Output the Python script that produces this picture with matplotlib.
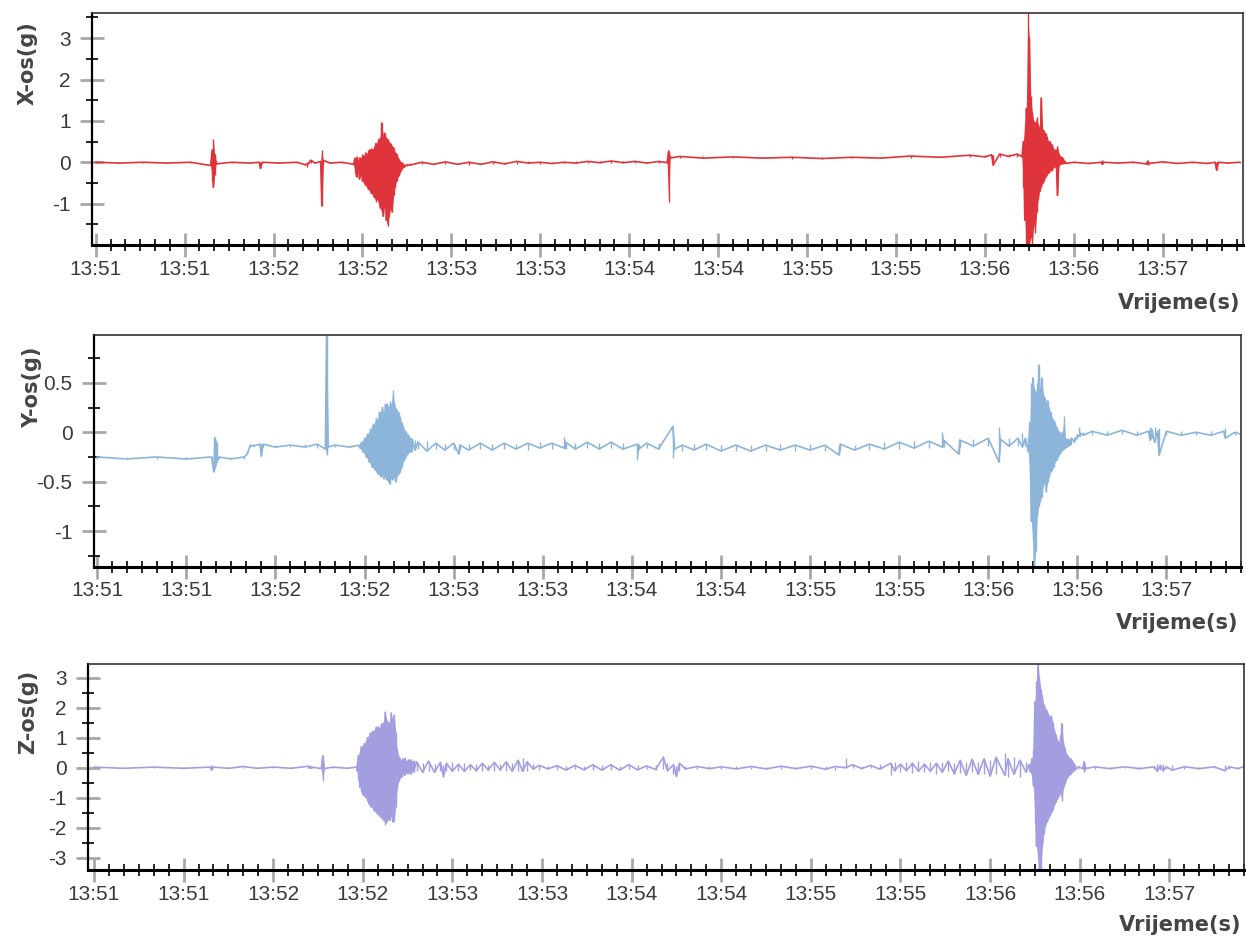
import numpy as np
import matplotlib
matplotlib.use('Agg')
import matplotlib.pyplot as plt
from matplotlib.ticker import FixedLocator, MultipleLocator, FuncFormatter

plt.rcParams['font.family'] = ['Liberation Sans', 'DejaVu Sans']
plt.rcParams['axes.unicode_minus'] = False

# time in seconds after 13:51:00, envelope (upper / lower) of each trace in g
x_t = [0, 8, 16, 24, 32, 38.8, 39.3, 39.7, 40.1, 40.6, 46, 52, 55.2, 55.6, 56.2, 62, 68,
       70.6, 71.2, 71.8, 72.6, 74, 75.9, 76.3, 76.7, 79, 83, 87,
       87.5, 88, 88.5, 89, 89.5, 90, 90.5, 91, 91.5, 92, 92.5, 93, 93.5, 94, 94.5, 95, 95.5,
       96, 96.5, 97, 97.5, 98, 98.5, 99, 99.5, 100, 100.5, 101, 101.5, 102, 102.5, 103,
       103.5, 104, 105,
       106, 110, 114, 118, 122, 126, 130, 134, 138, 142, 146, 150, 154, 158, 162, 166, 170,
       174, 178, 182, 186, 190, 192.8, 193.3, 193.8, 197, 205, 215, 225, 235, 245, 255, 265,
       275, 285, 295, 300, 302.3, 302.8, 305, 308, 311, 312.5,
       313, 313.5, 314, 314.5, 315, 315.5, 316, 316.5, 317, 317.5, 318, 318.5, 319, 319.5,
       320, 320.5, 321, 321.5, 322, 322.5, 323, 323.5, 324, 324.5, 325, 325.5, 326, 326.5, 327,
       327.5, 330, 335, 339.2, 339.6, 340, 345, 350, 354.5, 355, 355.5, 360, 365, 370, 375,
       377.7, 378.2, 378.7, 382, 386]
x_hi = [0, 0, 0, 0, 0, 0.05, 0.3, 0.55, 0.2, 0.03, 0, 0, 0, 0, 0, 0, 0,
        -0.02, -0.05, 0.02, 0.05, 0.01, 0.02, 0.3, 0.05, 0, 0, 0.02,
        0.1, 0.15, 0.05, 0.12, 0.1, 0.2, 0.15, 0.25, 0.2, 0.3, 0.3, 0.35, 0.3, 0.4, 0.45, 0.5, 0.55,
        0.6, 0.95, 0.65, 0.7, 0.6, 0.55, 0.5, 0.45, 0.4, 0.35, 0.25, 0.2, 0.12, 0.05, 0.0,
        -0.02, -0.05, -0.06,
        -0.02, 0.0, -0.01, 0.01, -0.01, 0.0, -0.01, 0.01, 0.0, 0.02, 0.04, 0.0, 0.01, 0.0, 0.02, 0.02, 0.03,
        0.03, 0.02, 0.02, 0.01, 0.02, 0.02, 0.27, 0.16, 0.14, 0.14, 0.13, 0.13, 0.12, 0.13, 0.12, 0.13,
        0.15, 0.16, 0.17, 0.18, 0.18, 0.17, 0.2, 0.2, 0.2, 0.2,
        0.5, 0.9, 1.3, 3.6, 3.0, 1.6, 1.2, 1.0, 0.95, 1.1, 0.9, 0.85, 1.55, 0.8,
        0.75, 0.7, 0.6, 0.5, 0.5, 0.45, 0.35, 0.3, 0.3, 0.4, 0.2, 0.15, 0.12, 0.1, 0.02,
        0.0, 0.0, 0.0, 0.0, 0.06, 0.0, 0.0, 0.0, 0.0, 0.03, 0.0, 0.01, 0.0, 0.0, 0.0,
        0.0, 0.0, 0.0, 0.0, 0.0]
x_lo = [-0.02, -0.02, -0.02, -0.02, -0.02, -0.08, -0.45, -0.6, -0.3, -0.04, -0.02, -0.02, -0.02, -0.15, -0.02, -0.02, -0.02,
        -0.06, -0.12, -0.02, -0.01, -0.02, -0.03, -1.05, -0.05, -0.02, -0.02, -0.05,
        -0.25, -0.35, -0.2, -0.4, -0.3, -0.45, -0.5, -0.55, -0.6, -0.65, -0.7, -0.75, -0.8, -0.85, -0.95, -0.9, -1.0,
        -1.1, -1.2, -1.3, -1.05, -1.4, -1.55, -1.3, -1.1, -1.2, -0.8, -0.6, -0.45, -0.35, -0.3, -0.2,
        -0.15, -0.12, -0.1,
        -0.07, -0.05, -0.05, -0.04, -0.05, -0.06, -0.05, -0.04, -0.04, -0.04, -0.02, -0.05, -0.03, -0.03, -0.02, -0.02, -0.01,
        -0.01, -0.01, -0.02, -0.02, -0.01, -0.01, -0.96, 0.1, 0.1, 0.1, 0.1, 0.1, 0.09, 0.09, 0.1, 0.1,
        0.11, 0.12, 0.12, 0.13, 0.12, -0.07, 0.13, 0.14, 0.13, 0.13,
        -0.6, -1.4, -2.0, -2.0, -2.0, -1.8, -2.0, -1.5, -1.7, -1.2, -0.9, -0.7, -0.6, -0.5,
        -0.45, -0.35, -0.3, -0.25, -0.2, -0.2, -0.15, -0.12, -0.1, -0.8, -0.08, -0.05, -0.04, -0.03, -0.03,
        -0.03, -0.03, -0.03, -0.03, -0.05, -0.03, -0.02, -0.03, -0.04, -0.06, -0.03, -0.02, -0.03, -0.02, -0.03,
        -0.03, -0.19, -0.03, -0.02, -0.02]

y_t = [0, 10, 20, 30, 38.5, 39.2, 39.7, 40.3, 41, 45, 49.5, 50.5, 51.5, 52.5, 54.8, 55.2, 55.8,
       60, 65, 70, 74, 76.8, 77.2, 77.7, 80, 85, 88,
       88.5, 89, 89.5, 90, 90.5, 91, 91.5, 92, 92.5, 93, 93.5, 94, 94.5, 95, 95.5, 96, 96.5, 97,
       97.5, 98, 98.5, 99, 99.5, 100, 100.5, 101, 101.5, 102, 102.5, 103, 103.5, 104, 104.5, 105,
       105.5, 106, 107,
       108, 111, 114, 117, 120, 121.7, 122.2, 125, 129, 133, 137, 141, 145, 149, 153, 157.2, 157.7,
       161, 165, 169, 173, 177, 181.8, 182.3, 185, 189, 193.8, 194.3, 197, 201, 205, 210, 215, 220,
       225, 230, 235, 240, 245, 249.7, 250.2, 255, 260, 265, 270, 275, 280, 284.5, 285, 290, 290.5,
       295, 300, 303.6, 304.1, 307, 310, 311.5, 312.5,
       313.5, 314, 314.5, 315, 315.5, 316, 316.5, 317, 317.5, 318, 318.5, 319, 319.5, 320, 320.5,
       321, 321.5, 322, 322.5, 323, 323.5, 324, 324.5, 325, 325.5, 326, 326.5, 327, 327.5, 328,
       329, 330, 330.6, 331, 332, 335, 340, 345, 350, 354, 354.5, 355, 356, 357, 357.5, 360, 365,
       370, 375, 379.3, 379.8, 383, 386]
y_hi = [-0.25, -0.25, -0.25, -0.25, -0.25, -0.04, -0.06, -0.1, -0.25, -0.25, -0.25, -0.2, -0.13, -0.12,
        -0.12, -0.12, -0.12, -0.13, -0.13, -0.12, -0.12, -0.12, 0.98, -0.12, -0.13, -0.13, -0.13,
        -0.12, -0.10, -0.08, -0.06, -0.04, -0.02, 0.0, 0.03, 0.06, 0.08, 0.1, 0.14, 0.12, 0.2, 0.22,
        0.25, 0.2, 0.28, 0.3, 0.25, 0.32, 0.28, 0.43, 0.3, 0.25, 0.22, 0.2, 0.15, 0.1, 0.06, 0.02,
        0.0, -0.02, -0.04, -0.06, -0.07, -0.08,
        -0.1, -0.09, -0.11, -0.12, -0.11, -0.12, -0.13, -0.12, -0.11, -0.12, -0.11, -0.12, -0.11,
        -0.1, -0.11, -0.05, -0.1, -0.11, -0.1, -0.11, -0.1, -0.11, -0.12, -0.12, -0.11, -0.11, 0.06,
        -0.1, -0.13, -0.12, -0.12, -0.13, -0.13, -0.13, -0.13, -0.12, -0.13, -0.12, -0.13, -0.13,
        -0.12, -0.13, -0.12, -0.1, -0.1, -0.09, -0.09, 0.0, -0.08, -0.07, -0.08, -0.07, -0.06, 0.05,
        -0.07, -0.06, -0.06, -0.01, -0.06,
        -0.05, 0.1, 0.5, 0.55, 0.45, 0.4, 0.5, 0.68, 0.45, 0.55, 0.4, 0.35, 0.3, 0.32, 0.25,
        0.2, 0.15, 0.12, 0.1, 0.05, 0.02, 0.0, -0.02, 0.0, 0.16, -0.06, -0.07, -0.07, -0.07, -0.06,
        -0.05, -0.03, 0.05, -0.01, 0.0, 0.01, 0.01, 0.02, 0.01, 0.01, 0.05, 0.03, 0.05, 0.01, 0.04,
        0.01, 0.01, 0.0, 0.01, 0.01, 0.04, 0.0, 0.0]
y_lo = [-0.27, -0.27, -0.27, -0.27, -0.27, -0.4, -0.36, -0.3, -0.27, -0.27, -0.27, -0.22, -0.15, -0.14,
        -0.15, -0.24, -0.15, -0.15, -0.15, -0.15, -0.16, -0.17, -0.23, -0.15, -0.15, -0.15, -0.15,
        -0.16, -0.18, -0.2, -0.22, -0.25, -0.27, -0.3, -0.32, -0.35, -0.36, -0.38, -0.4, -0.42,
        -0.43, -0.45, -0.44, -0.47, -0.45, -0.48, -0.5, -0.52, -0.46, -0.48, -0.45, -0.5, -0.44,
        -0.42, -0.4, -0.35, -0.3, -0.27, -0.24, -0.22, -0.2, -0.2, -0.19, -0.18,
        -0.17, -0.19, -0.17, -0.18, -0.18, -0.22, -0.17, -0.18, -0.17, -0.18, -0.17, -0.17, -0.18,
        -0.16, -0.17, -0.16, -0.17, -0.17, -0.16, -0.17, -0.16, -0.17, -0.28, -0.17, -0.16, -0.17,
        -0.26, -0.17, -0.19, -0.18, -0.18, -0.19, -0.19, -0.19, -0.19, -0.18, -0.19, -0.18, -0.19,
        -0.23, -0.18, -0.18, -0.18, -0.17, -0.17, -0.16, -0.16, -0.15, -0.15, -0.22, -0.15, -0.14,
        -0.14, -0.3, -0.14, -0.14, -0.14, -0.15, -0.14,
        -0.2, -0.4, -0.9, -1.1, -1.36, -1.2, -0.85, -0.75, -0.7, -0.65, -0.55, -0.5, -0.6, -0.5,
        -0.45, -0.4, -0.38, -0.35, -0.3, -0.28, -0.25, -0.22, -0.2, -0.18, -0.17, -0.16, -0.15,
        -0.14, -0.13, -0.12,
        -0.1, -0.07, -0.04, -0.04, -0.03, -0.03, -0.03, -0.02, -0.03, -0.04, -0.08, -0.06, -0.1,
        -0.04, -0.23, -0.03, -0.03, -0.03, -0.03, -0.03, -0.06, -0.03, -0.03]

z_t = [0, 10, 20, 30, 38.8, 39.3, 39.8, 45, 50, 54.5, 60, 66, 71.8, 72.4, 73, 76.1, 76.6, 77.1,
       80, 85, 88,
       88, 88.5, 89, 89.5, 90, 90.5, 91, 91.5, 92, 92.5, 93, 93.5, 94, 94.5, 95, 95.5, 96, 96.5,
       97, 97.5, 98, 98.5, 99, 99.5, 100, 100.5, 101, 101.5, 102, 102.5, 103, 103.5, 104, 104.5,
       105, 105.5, 106, 106.5, 107,
       108, 110, 112, 114, 116, 117, 118, 120, 122, 124, 126, 128, 130, 132, 134, 136, 138, 140,
       142, 143.5, 145, 147, 149, 152, 155, 158, 161, 164, 167, 170, 173, 176, 179, 182, 185, 188,
       190.6, 192, 194, 195, 196, 198, 202, 206, 210, 215, 220, 225, 230, 235, 240, 245, 248,
       251.6, 254, 257, 260, 263, 266.8, 268, 270, 272, 274, 276, 278, 280, 282, 284, 286, 288,
       290, 292, 294, 296, 298, 300, 302, 304.9, 306, 308, 310, 312, 313,
       313.5, 314, 314.5, 315, 315.5, 316, 316.5, 317, 317.5, 318, 318.5, 319, 319.5, 320, 320.5,
       321, 321.5, 322, 322.5, 323, 323.5, 324, 324.5, 325, 325.5, 326, 326.5, 327, 327.5, 328, 328.5,
       329.5, 331, 331.5, 332, 335, 340, 345, 350, 355, 356, 357, 358, 359, 361, 365, 370, 375,
       378.5, 380, 383, 386]
z_hi = [0.02, 0.02, 0.02, 0.02, 0.02, 0.1, 0.02, 0.02, 0.04, 0.04, 0.02, 0.02, 0.05, 0.08, 0.02,
        0.03, 0.4, 0.03, 0.02, 0.02, 0.02,
        0.1, 0.4, 0.6, 0.7, 0.75, 0.8, 0.9, 1.0, 1.1, 1.15, 1.25, 1.2, 1.3, 1.35, 1.4, 1.3, 1.5,
        1.45, 1.6, 1.85, 1.6, 1.5, 1.55, 1.82, 1.6, 1.75, 1.2, 0.6, 0.4, 0.3, 0.25, 0.3, 0.35, 0.2,
        0.3, 0.25, 0.3, 0.2, 0.25,
        0.2, 0.15, 0.22, 0.12, 0.18, 0.1, 0.15, 0.2, 0.12, 0.15, 0.1, 0.12, 0.15, 0.1, 0.18, 0.12,
        0.2, 0.15, 0.25, 0.32, 0.2, 0.12, 0.08, 0.05, 0.07, 0.05, 0.08, 0.06, 0.1, 0.08, 0.1, 0.07,
        0.1, 0.08, 0.06, 0.1, 0.35, 0.15, 0.1, 0.05, 0.15, 0.06, 0.04, 0.05, 0.03, 0.05, 0.04, 0.03,
        0.05, 0.04, 0.05, 0.06, 0.04, 0.32, 0.1, 0.05, 0.08, 0.12, 0.15, 0.2, 0.12, 0.2, 0.15, 0.22,
        0.12, 0.18, 0.15, 0.2, 0.22, 0.15, 0.25, 0.2, 0.28, 0.2, 0.3, 0.25, 0.35, 0.48, 0.3, 0.35,
        0.25, 0.2, 0.1,
        0.15, 0.3, 0.6, 2.2, 2.9, 3.45, 3.0, 2.6, 2.4, 2.1, 2.02, 1.9, 1.8, 1.7, 1.75, 1.5, 1.3,
        1.1, 0.95, 0.85, 1.1, 1.47, 0.9, 0.65, 0.5, 0.4, 0.35, 0.3, 0.25, 0.15, 0.1,
        0.03, 0.03, 0.2, 0.03, 0.03, 0.02, 0.03, 0.02, 0.03, 0.12, 0.08, 0.12, 0.03, 0.1, 0.03,
        0.02, 0.03, 0.08, 0.03, 0.02, 0.08]
z_lo = [-0.02, -0.02, -0.02, -0.02, -0.02, -0.08, -0.02, -0.02, -0.02, -0.02, -0.02, -0.02, -0.02,
        -0.02, -0.02, -0.03, -0.45, -0.03, -0.02, -0.02, -0.02,
        -0.1, -0.4, -0.65, -0.8, -0.9, -0.95, -1.0, -1.1, -1.2, -1.3, -1.3, -1.4, -1.45, -1.5,
        -1.55, -1.6, -1.65, -1.7, -1.75, -1.9, -1.8, -1.7, -1.75, -1.6, -1.8, -1.78, -1.3, -0.7,
        -0.45, -0.35, -0.3, -0.2, -0.25, -0.15, -0.2, -0.15, -0.2, -0.1, -0.15,
        -0.12, -0.15, -0.1, -0.15, -0.12, -0.3, -0.1, -0.12, -0.1, -0.12, -0.08, -0.1, -0.1, -0.08,
        -0.1, -0.08, -0.1, -0.12, -0.1, -0.12, -0.1, -0.05, -0.06, -0.04, -0.06, -0.08, -0.05,
        -0.07, -0.06, -0.08, -0.06, -0.08, -0.05, -0.07, -0.05, -0.06, -0.05, -0.1, -0.2, -0.29,
        -0.1, -0.04, -0.05, -0.03, -0.05, -0.04, -0.05, -0.04, -0.05, -0.03, -0.05, -0.05, -0.08,
        0.0, 0.0, -0.03, 0.0, -0.05, -0.23, -0.1, -0.15, -0.1, -0.18, -0.12, -0.15, -0.12, -0.2,
        -0.15, -0.12, -0.2, -0.18, -0.25, -0.15, -0.22, -0.2, -0.28, -0.2, -0.25, -0.3, -0.22,
        -0.3, -0.15, -0.08,
        -0.15, -0.25, -0.6, -1.8, -2.6, -3.0, -3.37, -3.37, -2.6, -2.2, -1.94, -1.8, -1.7, -1.6,
        -1.5, -1.4, -1.25, -1.15, -1.05, -0.95, -0.85, -1.11, -0.7, -0.55, -0.4, -0.3, -0.25,
        -0.22, -0.15, -0.1, -0.06,
        -0.03, -0.03, -0.15, -0.03, -0.03, -0.03, -0.02, -0.03, -0.03, -0.12, -0.08, -0.1, -0.03,
        -0.08, -0.03, -0.03, -0.02, -0.1, -0.03, -0.03, -0.06]

W, H = 1246, 939
fig = plt.figure(figsize=(W / 100, H / 100), dpi=100)


def add_box(left, top, right, bottom):
    return fig.add_axes([left / W, 1 - bottom / H, (right - left) / W, (bottom - top) / H])


def clock(v, pos):
    return '13:%02d' % (51 + int(v // 60))


def draw_trace(ax, t, hi, lo, color):
    t = np.asarray(t, float)
    hi = np.asarray(hi, float)
    lo = np.asarray(lo, float)
    # solid envelope only over runs of closely spaced readings (the bursts)
    breaks = np.where(np.diff(t) > 0.6)[0] + 1
    for idx in np.split(np.arange(len(t)), breaks):
        if len(idx) > 1:
            ax.fill_between(t[idx], lo[idx], hi[idx], color=color, lw=0)
    # wiggle alternating between the upper and lower reading
    ax.plot(t, np.where(np.arange(len(t)) % 2 == 0, hi, lo), color=color, lw=1.2)
    # full range of every reading
    ax.vlines(t, lo, hi, color=color, lw=1.0)


panels = [
    dict(t=x_t, hi=x_hi, lo=x_lo, color='#e0343c', box=(92.3, 13.3, 1242.7, 245),
         xlim=(-1.15, 387), ylim=(-2.0, 3.6), yt=[-1, 0, 1, 2, 3],
         ym=[-1.5, -0.5, 0.5, 1.5, 2.5, 3.5], label='X-os(g)', lx=-0.056, ly=0.784, vy=58),
    dict(t=y_t, hi=y_hi, lo=y_lo, color='#8cb5d9', box=(94, 335, 1240.7, 566.7),
         xlim=(-1.1, 385), ylim=(-1.36, 0.984), yt=[-1, -0.5, 0, 0.5],
         ym=[-1.25, -0.75, -0.25, 0.25, 0.75], label='Y-os(g)', lx=-0.054, ly=0.775, vy=56),
    dict(t=z_t, hi=z_hi, lo=z_lo, color='#a39ee0', box=(88.3, 664, 1244, 870),
         xlim=(-1.9, 385), ylim=(-3.41, 3.457), yt=[-3, -2, -1, 0, 1, 2, 3],
         ym=[-2.5, -1.5, -0.5, 0.5, 1.5, 2.5], label='Z-os(g)', lx=-0.052, ly=0.767, vy=55),
]

for p in panels:
    ax = add_box(*p['box'])
    draw_trace(ax, p['t'], p['hi'], p['lo'], p['color'])
    ax.set_xlim(*p['xlim'])
    ax.set_ylim(*p['ylim'])

    ax.xaxis.set_major_locator(MultipleLocator(30))
    ax.xaxis.set_minor_locator(MultipleLocator(5))
    ax.xaxis.set_major_formatter(FuncFormatter(clock))
    ax.yaxis.set_major_locator(FixedLocator(p['yt']))
    ax.yaxis.set_minor_locator(FixedLocator(p['ym']))
    ax.yaxis.set_major_formatter(FuncFormatter(lambda v, pos: '%g' % v))

    ax.tick_params(which='major', direction='inout', length=17, width=2.0, color='#a8a8a8',
                   labelsize=15, labelcolor='#3a3a3a')
    ax.tick_params(which='minor', direction='inout', length=9, width=1.2, color='black')
    ax.tick_params(axis='x', which='major', pad=2)
    ax.tick_params(axis='y', which='major', pad=7)

    for side in ['top', 'right']:
        ax.spines[side].set_linewidth(1.2)
        ax.spines[side].set_color('#333333')
    ax.spines['bottom'].set_linewidth(2.2)
    ax.spines['left'].set_linewidth(1.6)

    ax.text(p['lx'], p['ly'], p['label'], transform=ax.transAxes, rotation=90,
            ha='center', va='center', fontsize=15, fontweight='bold', color='#454545',
            family='DejaVu Sans')
    ax.annotate('Vrijeme(s)', xy=(1, 0), xycoords='axes fraction',
                xytext=(-2, -p['vy'] * 0.72), textcoords='offset points',
                ha='right', va='center', fontsize=15, fontweight='bold', color='#454545',
                family='DejaVu Sans')

fig.savefig('out.png', dpi=100)
